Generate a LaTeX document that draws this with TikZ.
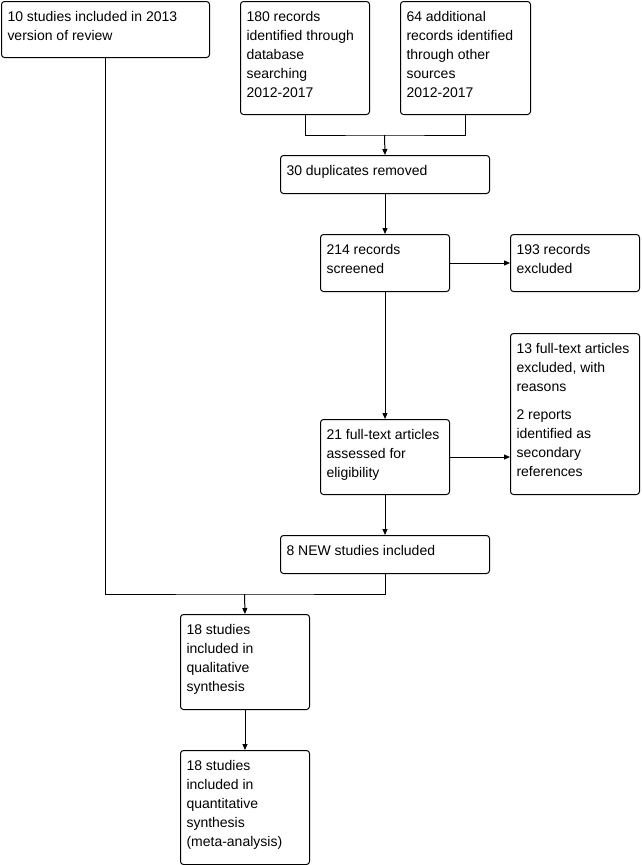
\documentclass[tikz,border=0pt]{standalone}
\usepackage{fontspec}
\setmainfont{Liberation Sans}
\usetikzlibrary{arrows.meta}
\newcommand{\bxt}[3]{\parbox[c][#2][t]{#1}{\raggedright\leftskip=6pt\relax\rule{0pt}{19.5pt}#3}}
\begin{document}
\begin{tikzpicture}[x=1pt,y=-1pt,line width=1pt,
  box/.style={draw, rounded corners=3pt, inner sep=0pt, anchor=north west, font=\fontsize{14}{19}\selectfont},
  arr/.style={-{Triangle[length=6pt,width=5pt]}}]
\useasboundingbox (0,0) rectangle (642,865);
\node[box] (b1) at (1,1) {\bxt{208pt}{56pt}{10 studies included in 2013\\version of review}};
\node[box] (b2) at (240,1) {\bxt{129pt}{113pt}{180 records\\identified through\\database\\searching\\2012-2017}};
\node[box] (b3) at (400,1) {\bxt{130pt}{113pt}{64 additional\\records identified\\through other\\sources\\2012-2017}};
\node[box] (dup) at (280,155) {\bxt{209pt}{38pt}{30 duplicates removed}};
\node[box] (scr) at (320,234) {\bxt{129pt}{57pt}{214 records\\screened}};
\node[box] (exc) at (510,234) {\bxt{129pt}{57pt}{193 records\\excluded}};
\node[box] (ftx) at (510,333) {\bxt{129pt}{161pt}{13 full-text articles\\excluded, with\\reasons\par\vspace{9pt}2 reports\\identified as\\secondary\\references}};
\node[box] (ft) at (320,419) {\bxt{129pt}{75pt}{21 full-text articles\\assessed for\\eligibility}};
\node[box] (new) at (280,535) {\bxt{209pt}{38pt}{8 NEW studies included}};
\node[box] (qual) at (180,614) {\bxt{129pt}{95pt}{18 studies\\included in\\qualitative\\synthesis}};
\node[box] (quant) at (180,750) {\bxt{129pt}{114pt}{18 studies\\included in\\quantitative\\synthesis\\(meta-analysis)}};
\coordinate (m1) at (384.5,135);
\coordinate (m2) at (244.5,594);
\draw (b2.south) |- (m1) -| (b3.south);
\draw[arr] (m1) -- (dup.north);
\draw[arr] (dup.south) -- (scr.north);
\draw[arr] (scr.east) -- (exc.west);
\draw[arr] (scr.south) -- (ft.north);
\draw[arr] (ft.east) -- (ft.east -| ftx.west);
\draw[arr] (ft.south) -- (new.north);
\draw (b1.south) |- (m2) -| (new.south);
\draw[arr] (m2) -- (qual.north);
\draw[arr] (qual.south) -- (quant.north);
\end{tikzpicture}
\end{document}
